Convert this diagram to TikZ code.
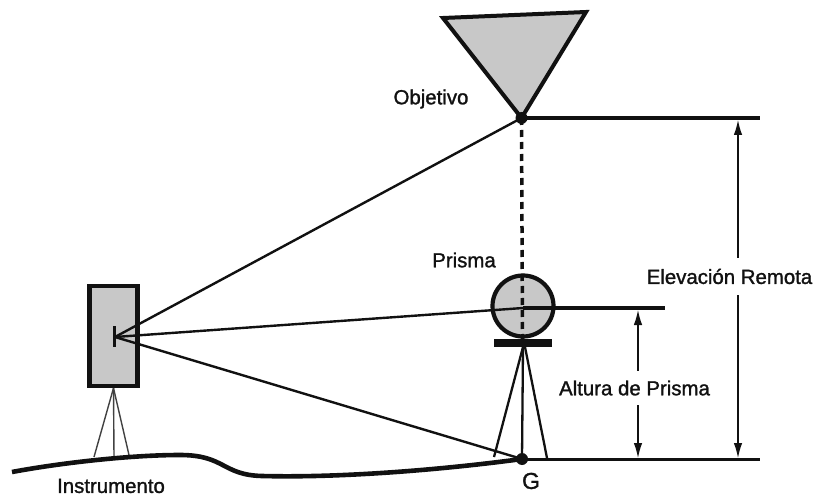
\documentclass[tikz,border=0pt]{standalone}
\usepackage{fontspec}
\setmainfont{Liberation Sans}[RawFeature={embolden=1.3}]
\usetikzlibrary{arrows.meta}
\definecolor{gfill}{HTML}{C8C8C8}
\definecolor{ink}{HTML}{111111}
\tikzset{
  lbl/.style={font=\fontsize{#1}{#1}\selectfont, text=ink, inner sep=0pt},
  lbl/.default=20.4,
  ray/.style={draw=ink,line width=2.4pt},
  leg/.style={draw=ink,line width=2.3pt},
  dimline/.style={draw=ink,line width=1.3pt,{Latex[length=15pt,width=8.5pt]}-{Latex[length=15pt,width=8.5pt]}},
  pointdot/.style={circle,fill=ink,inner sep=0pt,minimum size=12pt},
}
\begin{document}
\begin{tikzpicture}[x=1pt,y=-1pt]
\useasboundingbox[fill=white] (0,0) rectangle (814,497);
% named points
\coordinate (eye) at (115,337);
\coordinate (obj) at (521.5,118);
\coordinate (g) at (522,459);
\coordinate (pc) at (523,308);
\coordinate (objEnd) at (760,118);
\coordinate (gEnd) at (760,459);
\coordinate (pEnd) at (665,308);
\coordinate (dashEnd) at (522.5,340);
% target
\draw[draw=ink,line width=4pt,fill=gfill,line join=miter] (443,18) -- (586,12) -- (obj) -- cycle;
% prism
\node[circle,draw=ink,line width=4.2pt,fill=gfill,minimum size=61pt,inner sep=0pt] (prism) at (523,306) {};
\node[fill=ink,minimum width=58pt,minimum height=8pt,inner sep=0pt] (base) at (523,343) {};
% prism tripod
\draw[leg] (523,347) -- (494,457);
\draw[leg] (base.south) -- (g);
\draw[leg] (525,347) -- (547,458);
% instrument
\node[draw=ink,line width=4.2pt,fill=gfill,minimum width=48pt,minimum height=100pt,inner sep=0pt] (inst) at (113.5,336) {};
\draw[draw=ink,line width=3pt] (114,326) -- (114,347);
\draw[draw=ink!80,line width=1.4pt] (inst.south) -- (94,457);
\draw[draw=ink!80,line width=1.4pt] (inst.south) -- (114,457);
\draw[draw=ink!80,line width=1.4pt] (inst.south) -- (129,455);
% ground
\draw[draw=ink,line width=4.6pt,line cap=butt] (12,472) .. controls (60,463) and (130,455) .. (180,455)
  .. controls (225,455) and (222,475) .. (262,476) .. controls (340,478) and (440,470) .. (g);
% rays
\draw[ray] (eye) -- (obj);
\draw[ray] (eye) -- (pc);
\draw[ray] (eye) -- (g);
% levels
\draw[draw=ink,line width=4.2pt] (obj) -- (objEnd);
\draw[draw=ink,line width=4.2pt] (pc) -- (pEnd);
\draw[draw=ink,line width=3pt] (g) -- (gEnd);
% dashed vertical
\draw[draw=ink,line width=3.5pt,dash pattern=on 7pt off 5pt] (obj) -- (dashEnd);
% dots
\node[pointdot] (objdot) at (obj) {};
\node[pointdot] (gdot) at (g) {};
% dimension lines
\coordinate (d1t) at (738,120);
\coordinate (d1b) at (738,458);
\coordinate (d2t) at (638,310);
\coordinate (d2b) at (638,458);
\draw[dimline] (d1t) -- (d1b);
\draw[dimline] (d2t) -- (d2b);
% labels
\node[lbl, fill=white, inner sep=1pt, minimum height=37pt] (t1) at (729.5,276.5) {Elevación Remota};
\node[lbl, fill=white, inner sep=3pt, minimum height=34pt] (t2) at (634.5,388) {Altura de Prisma};
\node[lbl] (t3) at (431,99) {Objetivo};
\node[lbl] (t4) at (464,260) {Prisma};
\node[lbl=23] (t5) at (531,481) {G};
\node[lbl=20.4] (t6) at (111,486) {Instrumento};
\end{tikzpicture}
\end{document}
